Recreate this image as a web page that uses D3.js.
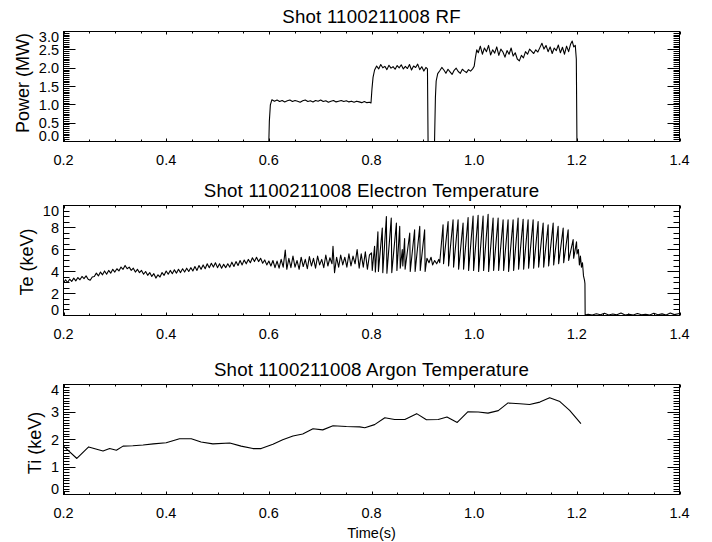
<!DOCTYPE html>
<html>
<head>
<meta charset="utf-8">
<script src="https://cdn.jsdelivr.net/npm/d3@7/dist/d3.min.js"></script>
<style>
  body { margin: 0; background: #fff; }
  svg { display: block; font-family: "Liberation Sans", Arial, sans-serif; }
</style>
</head>
<body>
<svg id="chart" width="712" height="542"></svg>
<script>
// ------------------------
// Data
// ------------------------
const shot = '1100211008';
const timeTicks = [ 0.2, 0.4, 0.6, 0.8, 1.0, 1.2, 1.4 ];
const rfTicks = [ 0.0, 0.5, 1.0, 1.5, 2.0, 2.5, 3.0 ];
const teTicks = [ 0, 2, 4, 6, 8, 10 ];
const tiTicks = [ 0, 1, 2, 3, 4 ];

// [time (s), RF power (MW)]
const rfPower = [
	[0.200,0],[0.600,0],[0.601,0.55],[0.603,1.00],[0.606,1.14],
	[0.611,1.10],[0.616,1.13],[0.621,1.09],[0.626,1.12],[0.631,1.08],[0.636,1.11],[0.641,1.13],[0.646,1.09],
	[0.651,1.12],[0.656,1.10],[0.661,1.07],[0.666,1.11],[0.671,1.13],[0.676,1.09],[0.681,1.11],[0.686,1.08],
	[0.691,1.12],[0.696,1.10],[0.701,1.13],[0.706,1.09],[0.711,1.11],[0.716,1.07],[0.721,1.10],[0.726,1.12],
	[0.731,1.08],[0.736,1.10],[0.741,1.12],[0.746,1.09],[0.751,1.11],[0.756,1.08],[0.761,1.10],[0.766,1.07],
	[0.771,1.10],[0.776,1.08],[0.781,1.06],[0.786,1.09],[0.791,1.06],[0.796,1.07],[0.799,1.05],
	[0.801,1.45],[0.803,1.75],[0.806,1.95],
	[0.810,2.06],[0.814,1.98],[0.818,2.10],[0.822,2.01],[0.826,2.05],[0.830,1.96],[0.834,2.08],[0.838,2.00],
	[0.842,2.04],[0.846,1.97],[0.850,2.07],[0.854,2.01],[0.858,2.09],[0.862,1.98],[0.866,2.05],[0.870,1.99],
	[0.874,2.10],[0.878,1.95],[0.882,2.06],[0.886,2.02],[0.890,2.11],[0.894,1.96],[0.898,2.04],[0.902,1.92],
	[0.906,2.02],[0.909,1.98],[0.9102,0],[0.9228,0],[0.9245,1.20],[0.926,1.65],[0.929,1.85],
	[0.933,1.93],[0.937,2.02],[0.941,1.95],[0.945,1.86],[0.949,1.97],[0.953,1.90],[0.957,1.83],[0.961,1.94],
	[0.965,2.00],[0.969,1.91],[0.973,1.86],[0.977,1.97],[0.981,1.92],[0.985,1.88],[0.989,1.96],[0.993,1.92],
	[0.997,1.98],[1.000,2.05],[1.002,2.25],[1.005,2.50],
	[1.008,2.42],[1.012,2.60],[1.016,2.38],[1.020,2.55],[1.024,2.45],[1.028,2.62],[1.032,2.36],[1.036,2.50],
	[1.040,2.41],[1.044,2.58],[1.048,2.35],[1.052,2.52],[1.056,2.44],[1.060,2.30],[1.064,2.48],[1.068,2.38],
	[1.072,2.55],[1.076,2.33],[1.080,2.42],[1.084,2.25],[1.088,2.20],[1.092,2.35],[1.096,2.28],[1.100,2.45],
	[1.104,2.38],[1.108,2.52],[1.112,2.46],[1.116,2.40],[1.120,2.50],[1.124,2.44],[1.128,2.56],[1.132,2.68],
	[1.136,2.52],[1.140,2.62],[1.144,2.45],[1.148,2.58],[1.152,2.40],[1.156,2.55],[1.160,2.48],[1.164,2.63],
	[1.168,2.42],[1.172,2.57],[1.176,2.38],[1.180,2.60],[1.184,2.45],[1.188,2.66],[1.191,2.74],[1.194,2.58],
	[1.197,2.62],[1.199,2.25],[1.2002,0],[1.400,0]
];

// [time (s), Te (keV)]
const teTrace = [
	[0.200,2.95],[0.204,3.25],[0.208,3.00],[0.212,3.30],[0.216,3.10],[0.220,3.40],[0.224,3.15],[0.228,3.45],
	[0.232,3.25],[0.236,3.55],[0.240,3.35],[0.244,3.60],[0.248,3.30],[0.252,3.20],[0.256,3.50],[0.260,3.55],
	[0.264,3.85],[0.268,3.60],[0.272,3.95],[0.276,3.70],[0.280,4.05],[0.284,3.75],[0.288,4.10],[0.292,3.85],
	[0.296,4.20],[0.300,3.95],[0.304,4.25],[0.308,4.05],[0.312,4.40],[0.316,4.20],[0.320,4.55],[0.324,4.25],
	[0.328,4.40],[0.332,4.10],[0.336,4.30],[0.340,3.95],[0.344,4.20],[0.348,3.90],[0.352,4.10],[0.356,3.75],
	[0.360,4.00],[0.364,3.65],[0.368,3.90],[0.372,3.55],[0.376,3.80],[0.380,3.40],[0.384,3.70],[0.388,3.50],
	[0.392,3.90],[0.396,3.65],[0.400,4.05],[0.404,3.75],[0.408,4.10],[0.412,3.80],[0.416,4.15],[0.420,3.85],
	[0.424,4.20],[0.428,3.90],[0.432,4.25],[0.436,3.95],[0.440,4.30],[0.444,4.00],[0.448,4.35],[0.452,4.05],
	[0.456,4.45],[0.460,4.10],[0.464,4.55],[0.468,4.20],[0.472,4.60],[0.476,4.25],[0.480,4.70],[0.484,4.35],
	[0.488,4.75],[0.492,4.40],[0.496,4.80],[0.500,4.35],[0.504,4.70],[0.508,4.30],[0.512,4.65],[0.516,4.35],
	[0.520,4.70],[0.524,4.40],[0.528,4.85],[0.532,4.45],[0.536,4.90],[0.540,4.55],[0.544,5.00],[0.548,4.60],
	[0.552,5.05],[0.556,4.70],[0.560,5.10],[0.564,4.80],[0.568,5.25],[0.572,4.90],[0.576,5.30],[0.580,4.90],
	[0.584,5.20],[0.588,4.75],[0.592,5.05],[0.596,4.60],[0.600,4.95],[0.604,4.50],[0.608,5.00],[0.612,4.35],
	[0.616,4.95],[0.620,4.30],[0.624,5.10],[0.628,4.40],[0.632,5.95],[0.635,4.20],[0.639,5.20],[0.643,4.35],
	[0.647,5.40],[0.651,4.40],[0.655,5.00],[0.659,4.20],[0.663,5.30],[0.667,4.45],[0.671,5.10],[0.675,4.25],
	[0.679,5.35],[0.683,4.50],[0.687,5.20],[0.691,4.30],[0.695,5.40],[0.699,4.60],[0.703,5.10],[0.707,4.35],
	[0.711,5.50],[0.715,4.50],[0.719,5.25],[0.723,4.70],[0.725,6.30],[0.728,3.90],[0.732,5.30],[0.736,4.40],
	[0.740,5.50],[0.744,4.60],[0.748,5.30],[0.752,4.40],[0.756,5.60],[0.760,4.50],[0.764,5.40],[0.768,4.70],
	[0.772,6.00],[0.776,4.30],[0.780,5.60],[0.784,4.40],[0.788,5.80],[0.792,4.20],[0.796,5.50],
	[0.800,5.70],[0.8015,4.10],[0.806,6.30],[0.8075,3.95],[0.8125,7.60],[0.8135,4.00],[0.8210,7.95],[0.8220,3.90],
	[0.8290,9.00],[0.8300,3.85],[0.8385,8.85],[0.8395,3.90],[0.8485,8.40],[0.8495,4.10],[0.8550,8.10],[0.8560,4.30],
	[0.8600,6.00],[0.8610,4.50],[0.8645,7.00],[0.8655,4.20],[0.8745,7.50],[0.8755,4.00],[0.8840,7.80],[0.8850,4.00],
	[0.8940,8.10],[0.8950,4.10],[0.9035,7.80],[0.9045,4.00],
	[0.908,5.20],[0.912,4.80],[0.916,5.30],[0.919,4.60],[0.923,5.00],[0.927,4.70],[0.931,5.10],[0.9329,4.80],
	[0.9394,8.25],[0.9404,4.70],[0.9492,8.55],[0.9502,4.50],[0.9589,8.70],[0.9599,4.40],[0.9687,8.70],[0.9697,4.20],
	[0.9784,8.40],[0.9794,4.20],[0.9882,8.90],[0.9892,4.10],[0.9979,9.05],[0.9989,4.10],[1.0077,9.10],[1.0087,4.00],
	[1.0174,9.05],[1.0184,4.10],[1.0272,9.20],[1.0282,4.00],[1.0369,8.85],[1.0379,4.10],[1.0467,8.85],[1.0477,4.10],
	[1.0564,8.70],[1.0574,4.10],[1.0661,8.70],[1.0671,4.00],[1.0759,8.70],[1.0769,4.10],[1.0856,8.85],[1.0866,4.20],
	[1.0954,8.75],[1.0964,4.20],[1.1051,8.70],[1.1061,4.30],[1.1149,8.70],[1.1159,4.30],[1.1246,8.55],[1.1256,4.40],
	[1.1344,8.40],[1.1354,4.40],[1.1441,8.25],[1.1451,4.50],[1.1539,8.40],[1.1549,4.60],[1.1636,8.10],[1.1646,4.70],
	[1.1734,7.95],[1.1744,4.80],[1.1831,7.80],[1.1841,5.00],[1.1928,6.90],[1.1938,5.20],[1.1994,6.70],
	[1.2004,5.60],[1.203,6.00],[1.205,4.60],[1.207,5.40],[1.209,4.40],[1.211,4.80],[1.213,3.60],[1.215,3.20],
	[1.2158,2.90],[1.2162,0.05],
	[1.222,0.12],[1.230,0.04],[1.238,0.16],[1.246,0.06],[1.254,0.20],[1.262,0.05],[1.270,0.14],[1.278,0.06],
	[1.286,0.22],[1.294,0.05],[1.302,0.12],[1.310,0.04],[1.318,0.18],[1.326,0.06],[1.334,0.12],[1.342,0.05],
	[1.350,0.20],[1.358,0.07],[1.366,0.15],[1.374,0.05],[1.382,0.22],[1.390,0.08],[1.400,0.18]
];

// [time (s), Ti (keV)]
const tiTrace = [
	[0.200,1.76],[0.226,1.31],[0.249,1.73],[0.277,1.58],[0.290,1.67],[0.303,1.61],[0.316,1.76],[0.335,1.77],
	[0.355,1.80],[0.375,1.84],[0.400,1.88],[0.426,2.03],[0.449,2.03],[0.468,1.91],[0.491,1.84],[0.524,1.87],
	[0.546,1.76],[0.569,1.67],[0.585,1.67],[0.608,1.83],[0.627,1.99],[0.647,2.13],[0.666,2.20],[0.686,2.39],
	[0.705,2.35],[0.725,2.50],[0.751,2.47],[0.777,2.46],[0.787,2.43],[0.806,2.54],[0.826,2.79],[0.845,2.73],
	[0.865,2.73],[0.888,2.94],[0.907,2.72],[0.930,2.73],[0.947,2.82],[0.967,2.62],[0.988,3.01],[1.008,3.00],
	[1.027,2.96],[1.047,3.05],[1.066,3.33],[1.089,3.30],[1.108,3.27],[1.128,3.36],[1.147,3.52],[1.167,3.38],
	[1.186,3.06],[1.208,2.58]
];

// ------------------------
// Layout
// ------------------------
const plotLeft = 63.5;
const plotRight = 679.5;
const plotHeight = 110;

const panels = [
	{ title: `Shot ${ shot } RF`, ylabel: 'Power (MW)', data: rfPower, ticks: rfTicks,
		domain: [ 0, 3 ], minor: 0.05, fmt: d3.format( '.1f' ), top: 31.5, labelX: 29, labelY: 83 },
	{ title: `Shot ${ shot } Electron Temperature`, ylabel: 'Te (keV)', data: teTrace, ticks: teTicks,
		domain: [ 0, 10 ], minor: 0.5, fmt: d3.format( 'd' ), top: 205.5, labelX: 32.5, labelY: 262 },
	{ title: `Shot ${ shot } Argon Temperature`, ylabel: 'Ti (keV)', data: tiTrace, ticks: tiTicks,
		domain: [ 0, 4 ], minor: 0.1, fmt: d3.format( 'd' ), top: 384.5, labelX: 41, labelY: 443 },
];

const svg = d3.select( '#chart' );
const x = d3.scaleLinear().domain( [ 0.2, 1.4 ] ).range( [ plotLeft, plotRight ] );
const xMinor = d3.range( 0.2, 1.4001, 0.05 );

panels.forEach( ( p, i ) => renderPanel( p, i ) );

svg.append( 'text' )
	.attr( 'x', ( plotLeft + plotRight ) / 2 )
	.attr( 'y', 537.5 )
	.attr( 'text-anchor', 'middle' )
	.style( 'font-size', '14.5px' )
	.text( 'Time(s)' );

function renderPanel( p, i ) {
	const top = p.top;
	const bottom = top + plotHeight;
	const y = d3.scaleLinear().domain( p.domain ).range( [ bottom, top ] );
	const g = svg.append( 'g' );

	g.append( 'clipPath' ).attr( 'id', `clip${ i }` )
		.append( 'rect' )
		.attr( 'x', plotLeft ).attr( 'y', top )
		.attr( 'width', plotRight - plotLeft ).attr( 'height', plotHeight );

	// trace
	const line = d3.line()
		.x( d => x( d[ 0 ] ) )
		.y( d => y( d[ 1 ] ) );

	g.append( 'path' )
		.datum( p.data )
		.attr( 'clip-path', `url(#clip${ i })` )
		.attr( 'fill', 'none' )
		.attr( 'stroke', '#000' )
		.attr( 'stroke-width', 1.1 )
		.attr( 'stroke-linejoin', 'round' )
		.attr( 'd', line );

	// ticks, all pointing inward on the four sides
	const ticks = g.append( 'g' ).attr( 'stroke', '#000' ).attr( 'stroke-width', 1 );
	xMinor.forEach( ( t, k ) => {
		const len = k % 4 === 0 ? 3 : 2;
		const px = Math.round( x( t ) ) + 0.5;
		ticks.append( 'line' ).attr( 'x1', px ).attr( 'x2', px ).attr( 'y1', bottom ).attr( 'y2', bottom - len );
		ticks.append( 'line' ).attr( 'x1', px ).attr( 'x2', px ).attr( 'y1', top ).attr( 'y2', top + len );
	} );

	const yMinor = d3.range( p.domain[ 0 ], p.domain[ 1 ] + p.minor / 2, p.minor );
	yMinor.forEach( v => {
		const major = p.ticks.some( t => Math.abs( t - v ) < 1e-6 );
		const len = major ? 12 : 6;
		const py = Math.round( y( v ) - 0.5 ) + 0.5;
		ticks.append( 'line' ).attr( 'x1', plotLeft ).attr( 'x2', plotLeft + len ).attr( 'y1', py ).attr( 'y2', py );
		ticks.append( 'line' ).attr( 'x1', plotRight ).attr( 'x2', plotRight - len ).attr( 'y1', py ).attr( 'y2', py );
	} );

	// frame
	g.append( 'rect' )
		.attr( 'x', plotLeft ).attr( 'y', top )
		.attr( 'width', plotRight - plotLeft ).attr( 'height', plotHeight )
		.attr( 'fill', 'none' ).attr( 'stroke', '#000' ).attr( 'stroke-width', 1 );

	// x tick labels
	g.selectAll( '.xlab' )
		.data( timeTicks )
		.join( 'text' )
		.attr( 'x', d => x( d ) )
		.attr( 'y', bottom + 23.5 )
		.attr( 'text-anchor', 'middle' )
		.style( 'font-size', '14.5px' )
		.text( d => d.toFixed( 1 ) );

	// y tick labels, end labels kept inside the frame
	g.selectAll( '.ylab' )
		.data( p.ticks )
		.join( 'text' )
		.attr( 'x', 59 )
		.attr( 'y', d => Math.min( Math.max( y( d ), top + 5 ), bottom - 6 ) + 5 )
		.attr( 'text-anchor', 'end' )
		.style( 'font-size', '14.5px' )
		.text( p.fmt );

	// titles
	g.append( 'text' )
		.attr( 'x', ( plotLeft + plotRight ) / 2 )
		.attr( 'y', top - 9 )
		.attr( 'text-anchor', 'middle' )
		.style( 'font-size', '18.7px' )
		.style( 'letter-spacing', '0.2px' )
		.text( p.title );

	g.append( 'text' )
		.attr( 'transform', `translate(${ p.labelX }, ${ p.labelY }) rotate(-90)` )
		.attr( 'text-anchor', 'middle' )
		.style( 'font-size', '18px' )
		.text( p.ylabel );
}
</script>
</body>
</html>
